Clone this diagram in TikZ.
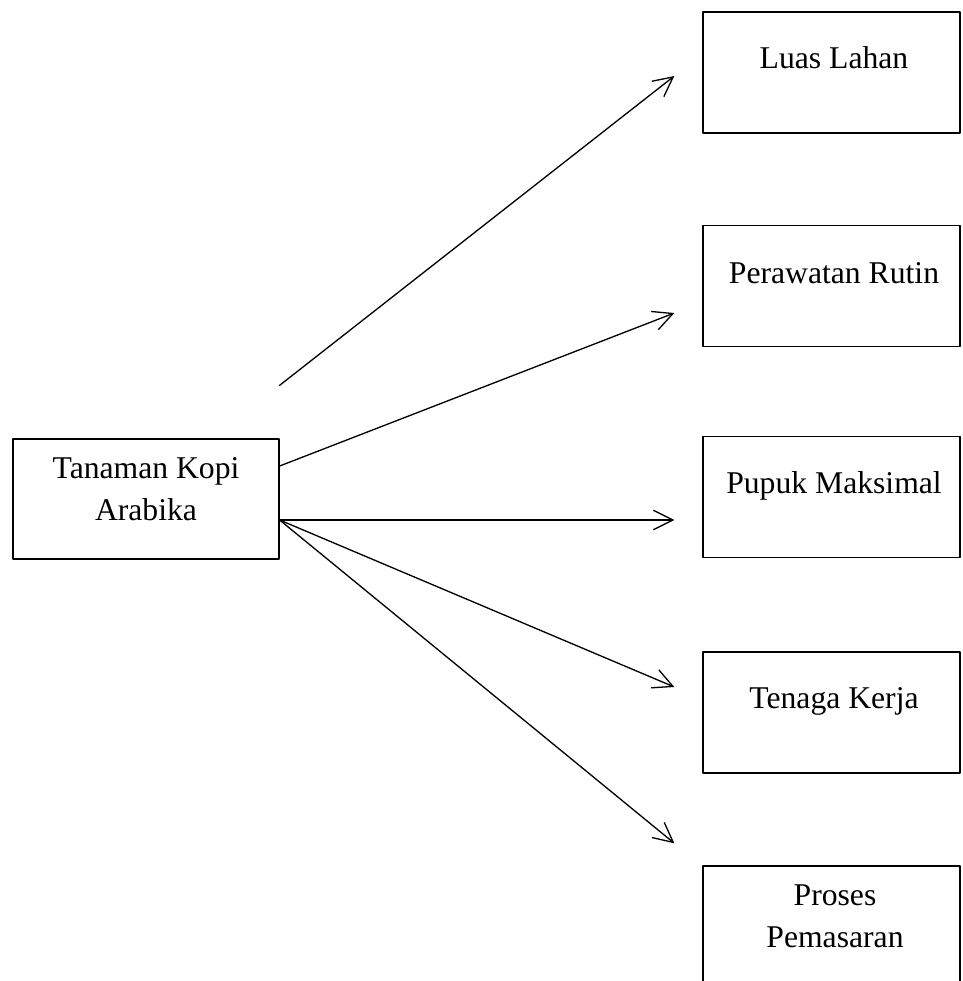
\documentclass[tikz,border=0pt]{standalone}
\usepackage{fontspec}
\setmainfont{Liberation Serif}
\usepackage{tikz}
\usetikzlibrary{arrows.meta,calc}

\begin{document}
\begin{tikzpicture}[x=0.379pt, y=-0.379pt, line join=round, line cap=round,
  box/.style={draw, line width=0.5pt, inner sep=0pt, minimum width=97.4pt, minimum height=45.9pt},
  lbl/.style={inner sep=0pt, align=center, font=\fontsize{12}{15.9}\selectfont},
  arr/.style={-{Straight Barb[length=7.4pt,width=7.4pt]}, line width=0.5pt}]
\useasboundingbox (0,0) rectangle (963,981);
\clip (0,0) rectangle (963,981);

\node[box, minimum width=100.8pt, minimum height=45.5pt] (src) at (146,499) {};
\node[lbl] (tsrc) at (146,489) {Tanaman Kopi\\Arabika};

\node[box] (b1) at (831.5,72.5) {};
\node[box] (b2) at (831.5,286) {};
\node[box] (b3) at (831.5,497) {};
\node[box] (b4) at (831.5,712.5) {};
\node[box] (b5) at (831.5,926.5) {};

\node[lbl, anchor=base] (t1) at (834,68) {Luas Lahan};
\node[lbl, anchor=base] (t2) at (834,283) {Perawatan Rutin};
\node[lbl, anchor=base] (t3) at (834,493) {Pupuk Maksimal};
\node[lbl, anchor=base] (t4) at (834,708) {Tenaga Kerja};
\node[lbl] (t5) at (835,916) {Proses\\Pemasaran};

\draw[arr] ($(src.north east)+(0,-53)$) -- ($(b1.west)+(-28,3.5)$);
\draw[arr] ($(src.east)+(0,-33)$) -- ($(b2.west)+(-28,27)$);
\draw[arr] ($(src.east)+(0,21)$) -- ($(b3.west)+(-28,23)$);
\draw[arr] ($(src.east)+(0,21)$) -- ($(b4.west)+(-28,-25.5)$);
\draw[arr] ($(src.east)+(0,21)$) -- ($(b5.north west)+(-28,-22)$);
\end{tikzpicture}
\end{document}
